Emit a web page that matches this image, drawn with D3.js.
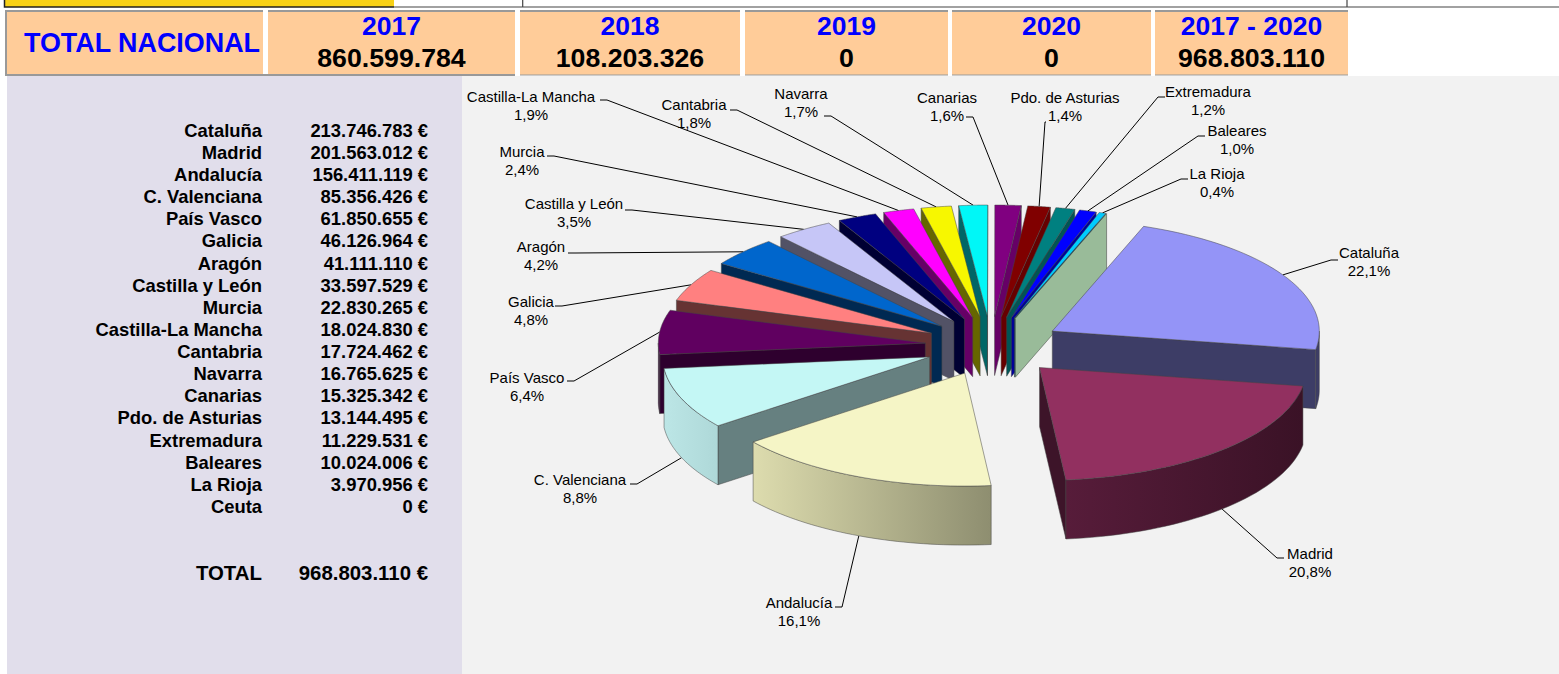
<!DOCTYPE html>
<html>
<head>
<meta charset="utf-8">
<script src="https://cdn.jsdelivr.net/npm/d3@7"></script>
<style>
  html, body { margin: 0; padding: 0; background: #fff; overflow: hidden; }
  text { font-family: "Liberation Sans", Arial, sans-serif; }
</style>
</head>
<body>
<div id="chart"></div>
<script>
// Data
const regions = ["Cataluña", "Madrid", "Andalucía", "C. Valenciana", "País Vasco", "Galicia", "Aragón",
  "Castilla y León", "Murcia", "Castilla-La Mancha", "Cantabria", "Navarra", "Canarias",
  "Pdo. de Asturias", "Extremadura", "Baleares", "La Rioja", "Ceuta"];
const amounts = [213746783, 201563012, 156411119, 85356426, 61850655, 46126964, 41111110,
  33597529, 22830265, 18024830, 17724462, 16765625, 15325342, 13144495, 11229531, 10024006, 3970956, 0];
const headerYears = ["2017", "2018", "2019", "2020", "2017 - 2020"];
const headerTotals = [860599784, 108203326, 0, 0, 968803110];
const grandTotal = 968803110;

const topColors = ["#9494f7", "#923060", "#f5f5c6", "#c4f7f5", "#600060", "#ff8080", "#0066cc", "#c6c6f7",
  "#000080", "#ff00ff", "#f7f700", "#00f7f7", "#800080", "#800000", "#008080", "#0000ff", "#00ccff", "#99bb99"];
const wallColors = ["#3d3d66", "#3d1429", "#666650", "#668080", "#2e002e", "#663333", "#002952", "#525266",
  "#000033", "#660066", "#666600", "#006666", "#660066", "#660000", "#005555", "#000099", "#005266", "#99bb99"];
// curved wall shading, left end / right end
const rimLeft = { 1: "#571c3a", 2: "#dddcae", 3: "#bce6e6" };
const rimRight = { 1: "#3a1226", 2: "#8e8e70", 3: "#aed8d8" };

// Hand placed labels: centre of the text, first line y, end of the leader, stub length
const labelPlaces = [
  [1369, 258, 1338, 260, 7], [1310, 559, 1284, 558, 7], [799, 608, 835, 607, 7], [580, 485, 630, 484, 7],
  [527, 383, 567, 381, 7], [531, 307, 555, 306, 7], [541, 252, 568, 253, 7], [574, 209, 625, 210, 7],
  [522, 157, 547, 156, 7], [531, 102, 600, 100, 7], [694, 110, 730, 110, 7], [801, 99, 824, 116, 7],
  [947, 103, 966, 117, 7], [1065, 103, 1046, 122, 1], [1208, 97, 1165, 97, 7], [1237, 136, 1205, 136, 7],
  [1217, 179, 1188, 179, 7]
];

const width = 1559;
const height = 674;

const svg = d3.select("#chart").append("svg")
  .attr("width", width)
  .attr("height", height)
  .style("display", "block");
const defs = svg.append("defs");

const euro = d3.formatLocale({ decimal: ",", thousands: ".", grouping: [3], currency: ["", " €"] }).format(",d");
const pctFmt = d3.formatLocale({ decimal: ",", thousands: ".", grouping: [3], currency: ["", ""] }).format(".1%");

//////////////////////////////////////
////////// Top strip /////////////////
//////////////////////////////////////
svg.append("rect").attr("x", 5).attr("y", 0).attr("width", 389).attr("height", 7).attr("fill", "#f7d117");
svg.append("path")
  .attr("fill", "none").attr("stroke", "#222").attr("stroke-width", 1.5)
  .attr("d", "M4.5 0V7H394");
svg.append("path")
  .attr("fill", "none").attr("stroke", "#444").attr("stroke-width", 1.2)
  .attr("d", "M394 7H522.7V0M522.7 7H1347V0M1347 7H1559");

//////////////////////////////////////
////////// Header cells //////////////
//////////////////////////////////////
const cells = [
  { x: 5, w: 258 }, { x: 268, w: 247 }, { x: 520, w: 220 }, { x: 745, w: 203 }, { x: 952, w: 199 }, { x: 1155, w: 193 }
];
const headerG = svg.append("g");
headerG.selectAll("rect.cell").data(cells).join("rect")
  .attr("class", "cell")
  .attr("x", d => d.x).attr("y", 10).attr("width", d => d.w).attr("height", 65)
  .attr("fill", "#ffcc99");
headerG.selectAll("rect.top").data(cells).join("rect")
  .attr("class", "top")
  .attr("x", d => d.x).attr("y", 10).attr("width", d => d.w).attr("height", 2)
  .attr("fill", "#999");
headerG.selectAll("rect.bottom").data(cells).join("rect")
  .attr("class", "bottom")
  .attr("x", d => d.x).attr("y", (d, i) => i < 2 ? 74 : 74.5).attr("width", d => d.w).attr("height", (d, i) => i < 2 ? 2 : 1)
  .attr("fill", "#999");
headerG.append("rect").attr("x", 5).attr("y", 10).attr("width", 2).attr("height", 66).attr("fill", "#999");

headerG.append("text")
  .attr("x", 142).attr("y", 52)
  .attr("text-anchor", "middle")
  .attr("font-size", 26.9).attr("font-weight", "bold").attr("fill", "#0000ff")
  .text("TOTAL NACIONAL");

headerG.selectAll("text.year").data(headerYears).join("text")
  .attr("class", "year")
  .attr("x", (d, i) => cells[i + 1].x + cells[i + 1].w / 2)
  .attr("y", 35)
  .attr("text-anchor", "middle")
  .attr("font-size", 26.5).attr("font-weight", "bold").attr("fill", "#0000ff")
  .text(d => d);
headerG.selectAll("text.total").data(headerTotals).join("text")
  .attr("class", "total")
  .attr("x", (d, i) => cells[i + 1].x + cells[i + 1].w / 2)
  .attr("y", 67)
  .attr("text-anchor", "middle")
  .attr("font-size", 26.7).attr("font-weight", "bold").attr("fill", "#000")
  .text(d => euro(d));

//////////////////////////////////////
////////// Panels and table //////////
//////////////////////////////////////
svg.append("rect").attr("x", 7).attr("y", 76).attr("width", 455).attr("height", height - 76).attr("fill", "#e1deeb");
svg.append("rect").attr("x", 462).attr("y", 76).attr("width", width - 462).attr("height", height - 76).attr("fill", "#f2f2f2");
svg.append("rect").attr("x", 7).attr("y", 74).attr("width", 455).attr("height", 2).attr("fill", "#999");

const rowY = d3.scaleLinear().domain([0, regions.length - 1]).range([130.5, 506.4]);
const table = svg.append("g").attr("font-size", 18.4).attr("font-weight", "bold").attr("fill", "#000");
table.selectAll("text.name").data(regions).join("text")
  .attr("class", "name")
  .attr("x", 262).attr("y", (d, i) => rowY(i)).attr("dy", "0.35em")
  .attr("text-anchor", "end").text(d => d);
table.selectAll("text.amount").data(amounts).join("text")
  .attr("class", "amount")
  .attr("x", 428).attr("y", (d, i) => rowY(i)).attr("dy", "0.35em")
  .attr("text-anchor", "end").text(d => euro(d) + " €");
table.append("text").attr("x", 262).attr("y", 573).attr("dy", "0.35em").attr("text-anchor", "end")
  .attr("font-size", 20.4).text("TOTAL");
table.append("text").attr("x", 428).attr("y", 573).attr("dy", "0.35em").attr("text-anchor", "end")
  .attr("font-size", 20.4).text(euro(grandTotal) + " €");

//////////////////////////////////////
////////// Exploded 3D pie ///////////
//////////////////////////////////////
const center = { x: 991, y: 346 };
const rx = 267, ryFront = 113, ryBack = 111.5, explodeRight = 71, explodeLeft = 66, explodeY = 29.5, depth = 59;
const startDeg = 20;
const total = d3.sum(amounts);

const pie = d3.pie().sort(null).value(d => d)
  .startAngle(startDeg * Math.PI / 180)
  .endAngle((startDeg + 360) * Math.PI / 180);

const slices = pie(amounts).map((d, i) => {
  const mid = (d.startAngle + d.endAngle) / 2;
  const sx = Math.sin(mid);
  return {
    i,
    a0: d.startAngle,
    a1: d.endAngle,
    mid,
    ox: center.x + (sx < 0 ? explodeLeft : explodeRight) * sx,
    oy: center.y - explodeY * Math.cos(mid),
    share: d.value / total
  };
});

// the far half of the pie looks a bit flatter in the reference
const rim = (s, a, dz = 0) => {
  const c = Math.cos(a);
  return [s.ox + rx * Math.sin(a), s.oy - (c > 0 ? ryBack : ryFront) * c + dz];
};
const line = d3.line();
const arcPoints = (a0, a1) => d3.range(0, 41).map(k => a0 + (a1 - a0) * k / 40);
const norm = a => ((a % (2 * Math.PI)) + 2 * Math.PI) % (2 * Math.PI);

// back slices first
const drawOrder = slices.slice().sort((p, q) =>
  Math.abs(norm(q.mid) - Math.PI) - Math.abs(norm(p.mid) - Math.PI));

const leaders = svg.append("g");
const pieG = svg.append("g")
  .attr("stroke", "#444").attr("stroke-width", 0.5).attr("stroke-linejoin", "round");

drawOrder.forEach(s => {
  const wall = wallColors[s.i];
  const g = pieG.append("g");

  // cut walls: start edge shows on the left half, end edge on the right half
  const edges = [];
  if (Math.sin(s.a0) < 0) edges.push(s.a0);
  if (Math.sin(s.a1) > 0) edges.push(s.a1);
  edges.forEach(a => {
    const p = rim(s, a);
    g.append("path").attr("fill", wall)
      .attr("d", line([[s.ox, s.oy], p, [p[0], p[1] + depth], [s.ox, s.oy + depth]]) + "Z");
  });

  // curved wall, only the part facing south
  const f0 = Math.max(norm(s.a0), Math.PI / 2);
  const f1 = Math.min(norm(s.a0) + (s.a1 - s.a0), 3 * Math.PI / 2);
  if (f1 > f0) {
    const pts = arcPoints(f0, f1);
    let fill = wall;
    if (rimLeft[s.i]) {
      const id = "rim" + s.i;
      const xs = pts.map(a => rim(s, a)[0]);
      const grad = defs.append("linearGradient").attr("id", id)
        .attr("gradientUnits", "userSpaceOnUse")
        .attr("x1", d3.min(xs)).attr("x2", d3.max(xs)).attr("y1", 0).attr("y2", 0);
      grad.append("stop").attr("offset", 0).attr("stop-color", rimLeft[s.i]);
      grad.append("stop").attr("offset", 1).attr("stop-color", rimRight[s.i]);
      fill = `url(#${id})`;
    }
    g.append("path").attr("fill", fill)
      .attr("d", line(pts.map(a => rim(s, a))) + "L" + line(pts.slice().reverse().map(a => rim(s, a, depth))).slice(1) + "Z");
  }

  // top face
  if (s.a1 > s.a0) {
    g.append("path").attr("fill", topColors[s.i])
      .attr("d", line([[s.ox, s.oy], ...arcPoints(s.a0, s.a1).map(a => rim(s, a))]) + "Z");
  }
});

//////////////////////////////////////
////////// Labels ////////////////////
//////////////////////////////////////
const labels = svg.append("g").attr("font-size", 15).attr("fill", "#000").attr("text-anchor", "middle");
labelPlaces.forEach((p, i) => {
  const s = slices[i];
  const m = norm(s.mid);
  const front = m > Math.PI / 2 && m < 3 * Math.PI / 2;
  const from = rim(s, s.mid, front ? depth : 0);
  const elbowX = p[2] + (p[0] < p[2] ? p[4] : -p[4]);
  leaders.append("path")
    .attr("fill", "none").attr("stroke", "#000").attr("stroke-width", 1)
    .attr("d", line([from, [elbowX, p[3]], [p[2], p[3]]]));
  labels.append("text").attr("x", p[0]).attr("y", p[1]).text(regions[i]);
  labels.append("text").attr("x", p[0]).attr("y", p[1] + 18).text(pctFmt(s.share));
});
</script>
</body>
</html>
